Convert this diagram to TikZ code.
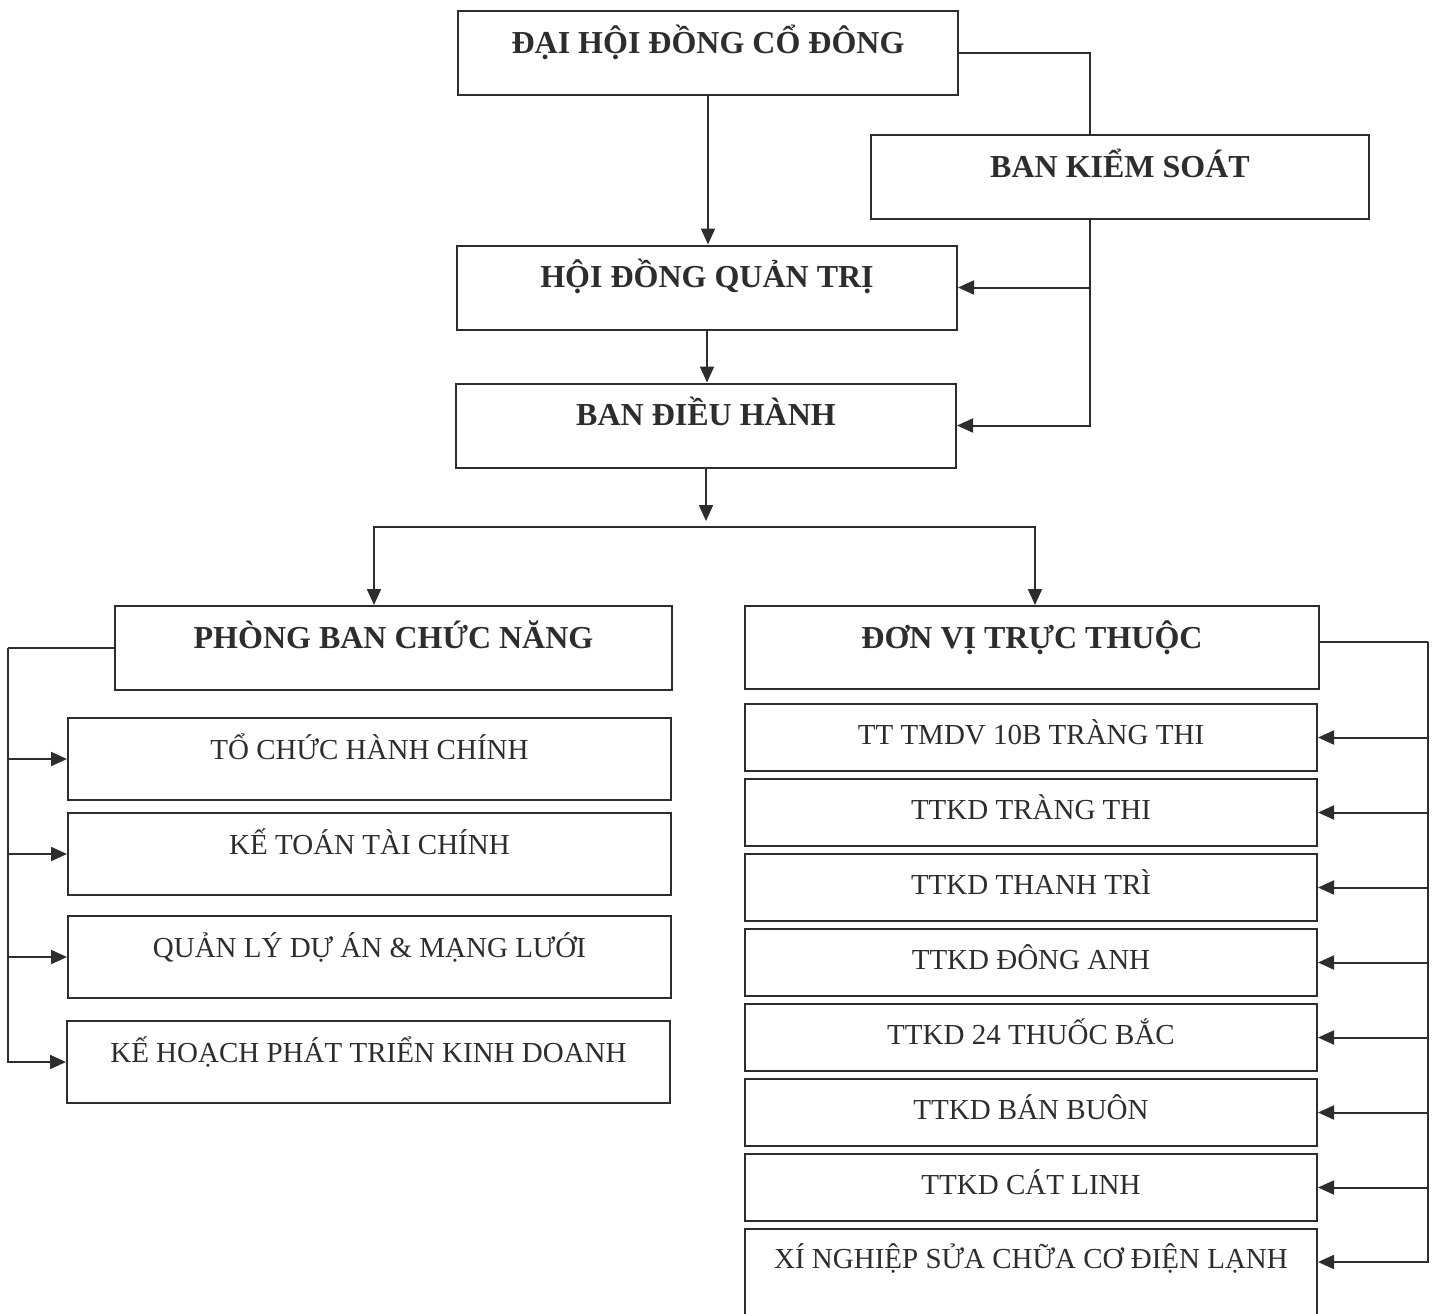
\documentclass[tikz,border=0pt]{standalone}
\usepackage{fontspec}
\setmainfont{Liberation Serif}
\usepackage{tikz}
\usetikzlibrary{%
    arrows.meta,
    positioning
}
\definecolor{ink}{RGB}{45,45,45}

\begin{document}
\begin{tikzpicture}[x=0.5pt,y=-0.5pt, line width=1pt, color=ink,
    box/.style={draw, rectangle, inner xsep=0pt, inner ysep=0pt},
    head/.style={box, minimum width=250pt, text height=21pt, text depth=21pt,
                 font=\fontsize{16pt}{18pt}\selectfont\bfseries},
    dept/.style={box, minimum width=301.5pt, text height=20.5pt, text depth=20.5pt,
                 font=\fontsize{14.5pt}{17pt}\selectfont},
    unit/.style={box, minimum width=286pt, text height=20pt, text depth=13.5pt,
                 font=\fontsize{14.5pt}{17pt}\selectfont},
    arr/.style={-{Triangle[length=8pt,width=7pt]}}]
  \useasboundingbox (0,0) rectangle (1435,1313);

  % upper levels
  \node[head] (dh) at (708,53) {ĐẠI HỘI ĐỒNG CỔ ĐÔNG};
  \node[head, minimum width=249pt] (bks) at (1120,177) {BAN KIỂM SOÁT};
  \node[head] (hq) at (707,287.5) {HỘI ĐỒNG QUẢN TRỊ};
  \node[head] (bdh) at (706,425.5) {BAN ĐIỀU HÀNH};

  \node[head, minimum width=278.5pt] (pb) at (393.5,648) {PHÒNG BAN CHỨC NĂNG};
  \node[head, minimum width=287pt, text depth=20.5pt] (dv) at (1032,647.5)
    {ĐƠN VỊ TRỰC THUỘC};

  % functional departments
  \node[dept] (d1) at (369.5,759) {TỔ CHỨC HÀNH CHÍNH};
  \node[dept] (d2) at (369.5,854) {KẾ TOÁN TÀI CHÍNH};
  \node[dept] (d3) at (369.5,957) {QUẢN LÝ DỰ ÁN \& MẠNG LƯỚI};
  \node[dept] (d4) at (368.5,1062) {KẾ HOẠCH PHÁT TRIỂN KINH DOANH};

  % affiliated units
  \node[unit] (u1) at (1031,737.5) {TT TMDV 10B TRÀNG THI};
  \node[unit, below=3pt of u1] (u2) {TTKD TRÀNG THI};
  \node[unit, below=3pt of u2] (u3) {TTKD THANH TRÌ};
  \node[unit, below=3pt of u3] (u4) {TTKD ĐÔNG ANH};
  \node[unit, below=3pt of u4] (u5) {TTKD 24 THUỐC BẮC};
  \node[unit, below=3pt of u5] (u6) {TTKD BÁN BUÔN};
  \node[unit, below=3pt of u6] (u7) {TTKD CÁT LINH};
  \node[unit, below=3pt of u7, text height=19.5pt, text depth=30pt] (u8)
    {XÍ NGHIỆP SỬA CHỮA CƠ ĐIỆN LẠNH};

  % connectors
  \draw (dh.east) -| ([xshift=-15pt]bks.north);
  \draw[arr] ([xshift=-15pt]bks.south) |- (hq.east);
  \draw[arr] ([xshift=-15pt]bks.south) |- (bdh.east);
  \draw[arr] (dh.south) -- (dh.south |- hq.north);
  \draw[arr] (hq.south) -- (hq.south |- bdh.north);

  \coordinate (bus) at (706,527);
  \draw[arr, shorten >=3pt] (bdh.south) -- (bus);
  \draw[arr] (bus) -| ([xshift=-9.75pt]pb.north);
  \draw[arr] (bus) -| ([xshift=1.5pt]dv.north);

  \draw (pb.west) -- ++(-53pt,0) coordinate (lb);
  \foreach \i in {1,...,4}
    \draw[arr] (lb) |- (d\i.west);

  \draw ([yshift=3pt]dv.east) -- ++(54pt,0) coordinate (rb);
  \foreach \i in {1,...,7}
    \draw[arr] (rb) |- (u\i.east);
  \draw[arr] (rb) |- ([yshift=-17pt]u8.north east);
\end{tikzpicture}
\end{document}
